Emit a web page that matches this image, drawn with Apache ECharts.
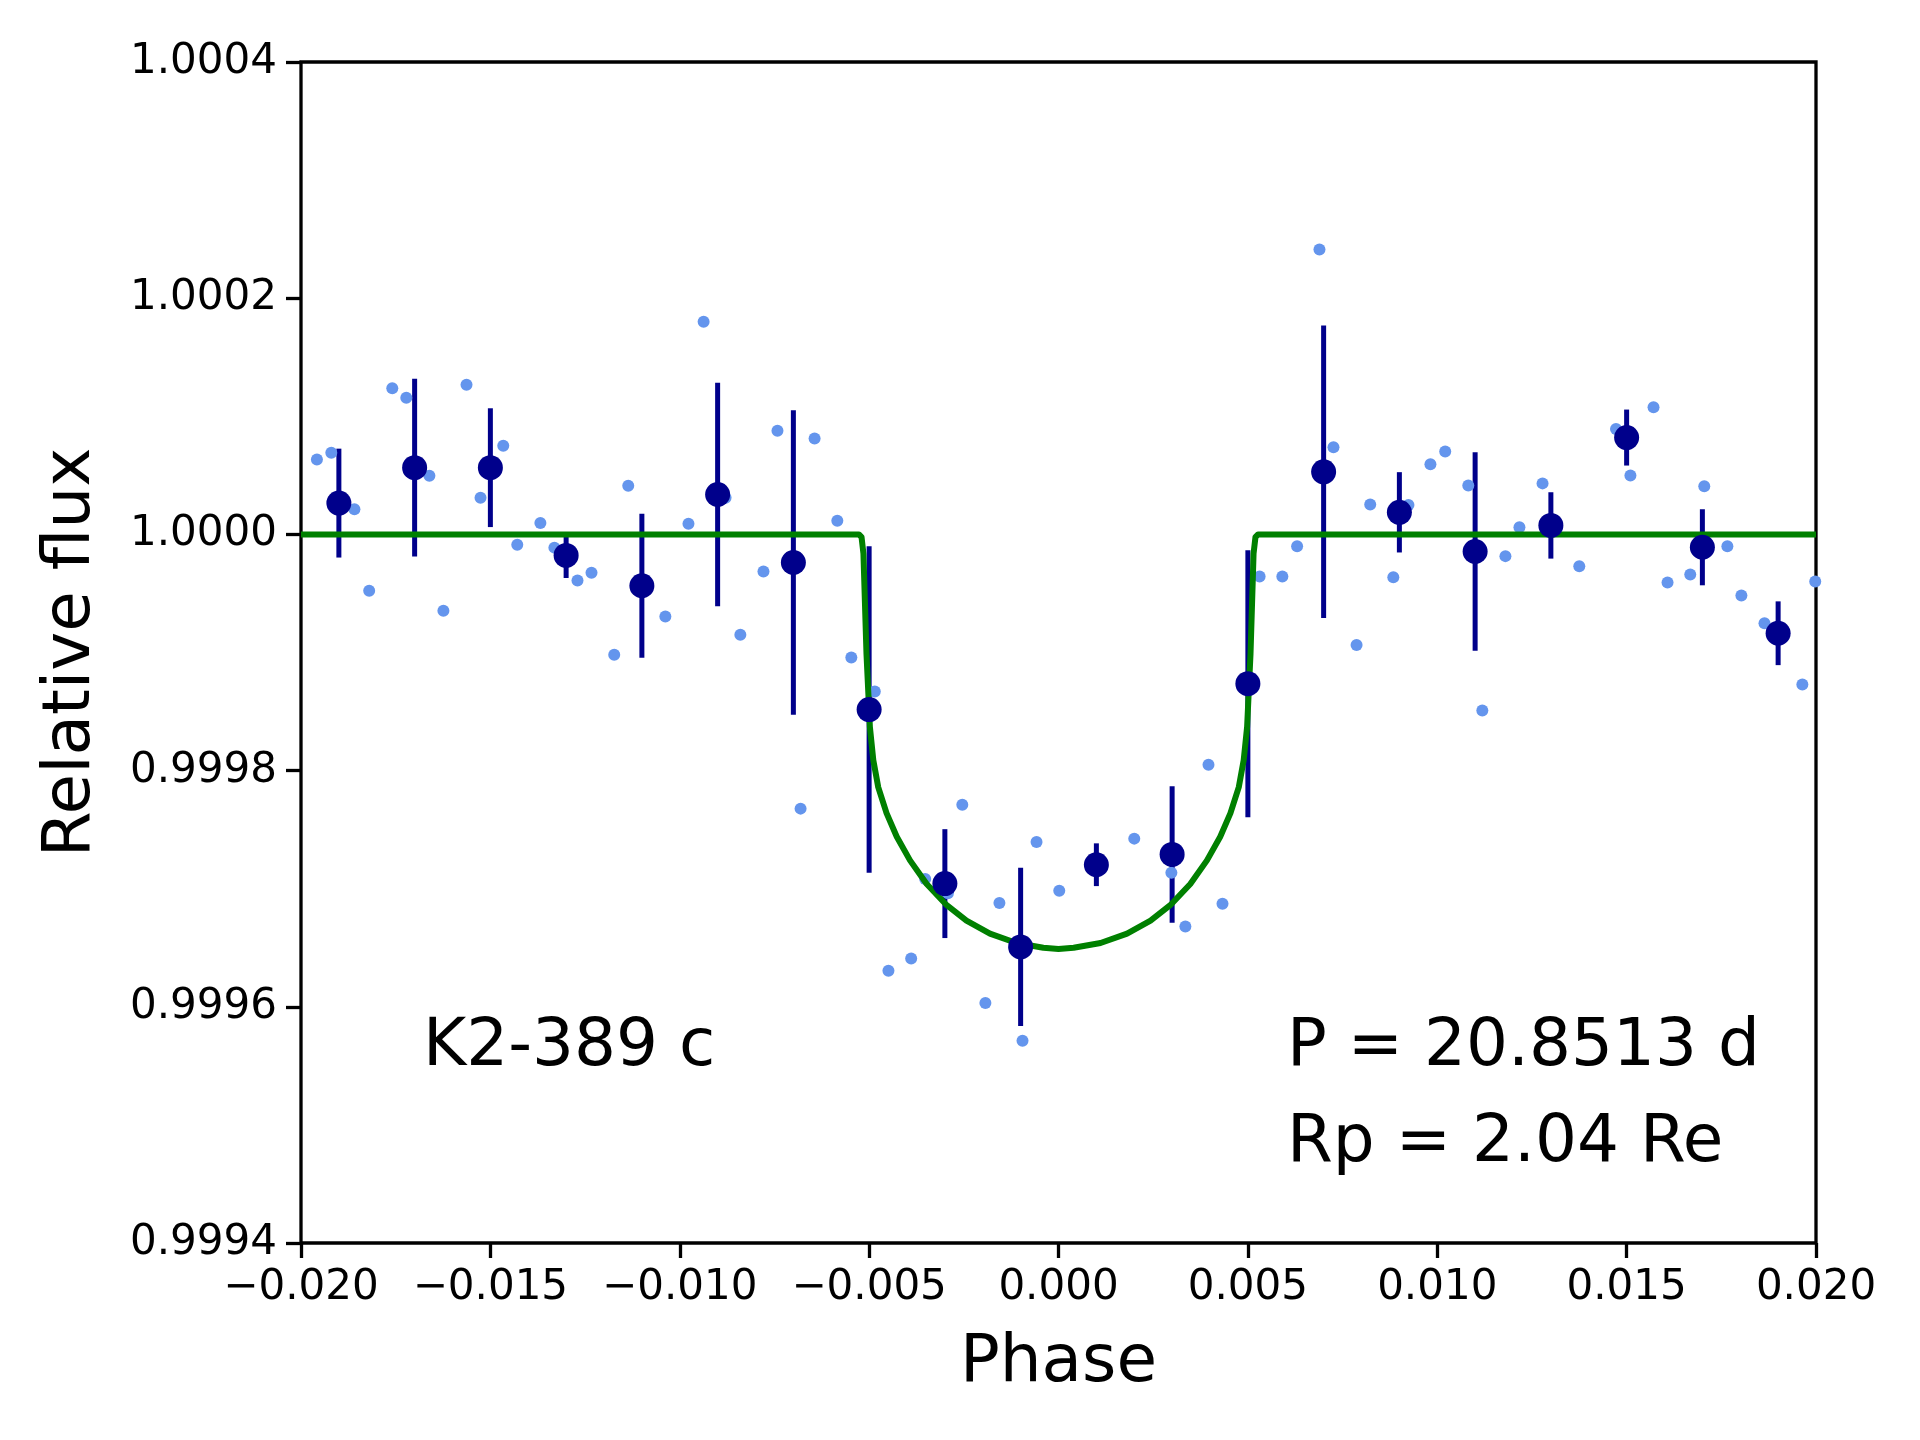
<!DOCTYPE html>
<html>
<head>
<meta charset="utf-8">
<script src="https://cdn.jsdelivr.net/npm/echarts@6/dist/echarts.min.js"></script>
<style>
  html, body { margin: 0; padding: 0; background: #fff; }
  #main { width: 1920px; height: 1440px; }
</style>
</head>
<body>
<div id="main"></div>
<script>
// unbinned points (light blue)
var ptPhase = [-0.01958, -0.01920, -0.01859, -0.01820, -0.01759, -0.01722, -0.01661, -0.01624,
  -0.01563, -0.01526, -0.01466, -0.01429, -0.01368, -0.01331, -0.01270, -0.01233, -0.01173,
  -0.01136, -0.01038, -0.00977, -0.00937, -0.00879, -0.00840, -0.00779, -0.00742, -0.00681,
  -0.00644, -0.00584, -0.00547, -0.00485, -0.00449, -0.00389, -0.00352, -0.00292, -0.00254,
  -0.00193, -0.00156, -0.00095, -0.00058, 0.00002, 0.00200, 0.00298, 0.00335, 0.00396, 0.00433,
  0.00531, 0.00591, 0.00630, 0.00689, 0.00726, 0.00787, 0.00823, 0.00884, 0.00924, 0.00982,
  0.01021, 0.01082, 0.01119, 0.01180, 0.01217, 0.01278, 0.01375, 0.01472, 0.01510, 0.01571,
  0.01608, 0.01668, 0.01705, 0.01766, 0.01803, 0.01864, 0.01964, 0.01998];
var ptFlux = [1.0000635, 1.0000692, 1.0000212, 0.9999522, 1.0001237, 1.0001158, 1.0000496, 0.9999353,
  1.0001267, 1.0000311, 1.0000750, 0.9999912, 1.0000097, 0.9999888, 0.9999610, 0.9999676, 0.9998981,
  1.0000411, 0.9999305, 1.0000091, 1.0001800, 1.0000311, 0.9999150, 0.9999686, 1.0000877, 0.9997678,
  1.0000813, 1.0000115, 0.9998957, 0.9998669, 0.9996305, 0.9996408, 0.9997082, 0.9996961, 0.9997711,
  0.9996033, 0.9996879, 0.9995712, 0.9997396, 0.9996982, 0.9997424, 0.9997136, 0.9996680, 0.9998050, 0.9996873,
  0.9999643, 0.9999643, 0.9999900, 1.0002413, 1.0000738, 0.9999063, 1.0000254, 0.9999637, 1.0000248, 1.0000593,
  1.0000702, 1.0000414, 0.9998509, 0.9999816, 1.0000060, 1.0000432, 0.9999731, 1.0000892, 1.0000499, 1.0001077,
  0.9999592, 0.9999661, 1.0000408, 0.9999900, 0.9999483, 0.9999247, 0.9998730, 0.9999601];

// binned points with error bars (dark blue)
var binPhase = [-0.019, -0.017, -0.015, -0.013, -0.011, -0.009, -0.007, -0.005, -0.003, -0.001,
  0.001, 0.003, 0.005, 0.007, 0.009, 0.011, 0.013, 0.015, 0.017, 0.019];
var binFlux = [1.0000265, 1.0000565, 1.0000565, 0.9999822, 0.9999565, 1.0000338, 0.9999762, 0.9998517,
  0.9997043, 0.9996507, 0.9997203, 0.9997290, 0.9998736, 1.0000530, 1.0000187, 0.9999855, 1.0000076,
  1.0000820, 0.9999891, 0.9999163];
var binErr = [0.0000461, 0.0000753, 0.0000503, 0.0000191, 0.0000610, 0.0000946, 0.0001290, 0.0001383,
  0.0000461, 0.0000670, 0.0000181, 0.0000578, 0.0001130, 0.0001238, 0.0000340, 0.0000841, 0.0000281,
  0.0000237, 0.0000322, 0.0000270];

// transit model (green)
var modelPhase = [-0.020, -0.00527, -0.00520, -0.00515, -0.00511, -0.00507, -0.00502, -0.00498,
  -0.00489, -0.00476, -0.00454, -0.00427, -0.00392, -0.00348, -0.00295, -0.00243, -0.00181,
  -0.00111, -0.00040, 0.0,
  0.00040, 0.00111, 0.00181, 0.00243, 0.00295, 0.00348, 0.00392, 0.00427, 0.00454, 0.00476,
  0.00489, 0.00498, 0.00502, 0.00507, 0.00511, 0.00515, 0.00520, 0.00527, 0.020];
var modelFlux = [1.0, 1.0, 0.9999977, 0.9999836, 0.9999413, 0.999899, 0.999865, 0.999837,
  0.999809, 0.999786, 0.999764, 0.999744, 0.999724, 0.999704, 0.999686, 0.999673, 0.999662,
  0.999654, 0.999650, 0.999649,
  0.999650, 0.999654, 0.999662, 0.999673, 0.999686, 0.999704, 0.999724, 0.999744, 0.999764, 0.999786,
  0.999809, 0.999837, 0.999865, 0.999899, 0.9999413, 0.9999836, 0.9999977, 1.0, 1.0];

var xTicks = { min: -0.02, max: 0.02, step: 0.005 };
var yTicks = { min: 0.9994, max: 1.0004, step: 0.0002 };

var font = 'DejaVu Sans';

var chart = echarts.init(document.getElementById('main'), null, { renderer: 'canvas' });

function errBar(params, api) {
  var x = api.value(0), y = api.value(1), e = api.value(2);
  var a = api.coord([x, y + e]);
  var b = api.coord([x, y - e]);
  return {
    type: 'line',
    shape: { x1: a[0], y1: a[1], x2: b[0], y2: b[1] },
    style: { stroke: '#00008b', lineWidth: 5 }
  };
}

chart.setOption({
  animation: false,
  backgroundColor: '#fff',
  grid: { left: 301, right: 104, top: 62, bottom: 197, show: true, borderColor: '#000', borderWidth: 3.3 },
  xAxis: {
    type: 'value', min: xTicks.min, max: xTicks.max, interval: xTicks.step,
    name: 'Phase', nameLocation: 'middle', nameGap: 88,
    nameTextStyle: { fontFamily: font, fontSize: 66, color: '#000' },
    axisLine: { show: false, onZero: false },
    axisTick: { show: true, inside: false, length: 15, lineStyle: { color: '#000', width: 3.3 } },
    axisLabel: {
      margin: 24, fontFamily: font, fontSize: 42, color: '#000',
      formatter: function (v) { return v.toFixed(3).replace('-', '\u2212'); }
    },
    splitLine: { show: false }
  },
  yAxis: {
    type: 'value', min: yTicks.min, max: yTicks.max, interval: yTicks.step,
    name: 'Relative flux', nameLocation: 'middle', nameGap: 196, nameRotate: 90,
    nameTextStyle: { fontFamily: font, fontSize: 66, color: '#000' },
    axisLine: { show: false, onZero: false },
    axisTick: { show: true, inside: false, length: 15, lineStyle: { color: '#000', width: 3.3 } },
    axisLabel: {
      margin: 24, fontFamily: font, fontSize: 42, color: '#000',
      formatter: function (v) { return v.toFixed(4); }
    },
    splitLine: { show: false }
  },
  series: [
    {
      type: 'custom', name: 'err', renderItem: errBar, z: 1,
      encode: { x: 0, y: 1 },
      data: binPhase.map(function (p, i) { return [p, binFlux[i], binErr[i]]; })
    },
    {
      type: 'scatter', name: 'points', z: 2, symbol: 'circle', symbolSize: 12,
      itemStyle: { color: '#6495ed', opacity: 1 },
      data: ptPhase.map(function (p, i) { return [p, ptFlux[i]]; })
    },
    {
      type: 'line', name: 'model', z: 3, showSymbol: false, symbol: 'none',
      lineStyle: { color: '#008000', width: 6, join: 'round' },
      data: modelPhase.map(function (p, i) { return [p, modelFlux[i]]; })
    },
    {
      type: 'scatter', name: 'bins', z: 4, symbol: 'circle', symbolSize: 25,
      itemStyle: { color: '#00008b', opacity: 1 },
      data: binPhase.map(function (p, i) { return [p, binFlux[i]]; })
    }
  ],
  graphic: [
    { type: 'text', left: 423, top: 1015, style: { text: 'K2-389 c', font: '66px "DejaVu Sans"', fill: '#000' } },
    { type: 'text', left: 1287, top: 1015, style: { text: 'P = 20.8513 d', font: '66px "DejaVu Sans"', fill: '#000' } },
    { type: 'text', left: 1287, top: 1111, style: { text: 'Rp = 2.04 Re', font: '66px "DejaVu Sans"', fill: '#000' } }
  ]
});
</script>
</body>
</html>
